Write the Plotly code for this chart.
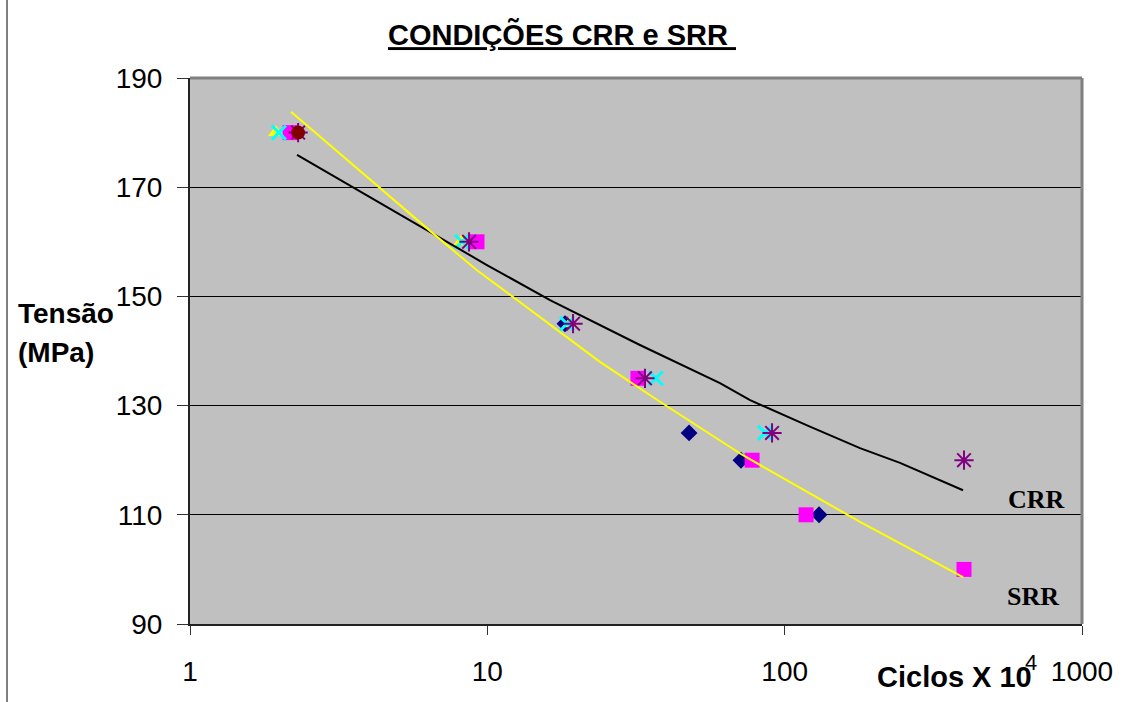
import plotly.graph_objects as go

# ---- data ----
diamond_x = [18.25, 47.7, 71.3, 130.5]
diamond_y = [145, 125, 120, 110]
square_x = [2.17, 9.23, 32.1, 77.7, 118, 401]
square_y = [180, 160, 135, 120, 110, 100]
triangle_x = [1.946, 8.16, 18.97]
triangle_y = [180, 160, 145]
cross_x = [1.99, 8.22, 18.53, 36.9, 85.9]
cross_y = [180, 160, 145, 135, 125]
aster_x = [2.31, 8.68, 19.42, 33.9, 90.7, 401]
aster_y = [180, 160, 145, 135, 125, 120]
circle_x = [2.31]
circle_y = [180]

crr_x = [2.291, 5.085, 9.97, 16.25, 32.6, 60.6, 76.5, 120.0, 179.2, 244.3, 398]
crr_y = [175.9, 164.9, 155.75, 149.3, 141.1, 134.1, 131.0, 126.3, 122.2, 119.5, 114.5]
srr_x = [2.186, 3.373, 6.415, 9.23, 15.04, 23.92, 38.08, 71.9, 179.2, 244.3, 398]
srr_y = [183.8, 175.0, 162.0, 154.8, 146.2, 138.0, 130.7, 121.0, 108.7, 104.8, 98.6]

x_ticks = [1, 10, 100, 1000]
y_ticks = [90, 110, 130, 150, 170, 190]

W, H = 1133, 702
L, R, T, B = 190, 51, 78, 78
PW, PH = W - L - R, H - T - B


def px(x):
    return (x - L) / PW


def py(y):
    return (H - B - y) / PH


fig = go.Figure()
fig.add_trace(go.Scatter(x=diamond_x, y=diamond_y, mode="markers",
                         marker=dict(symbol="diamond", size=13, color="#000080", line=dict(width=0))))
fig.add_trace(go.Scatter(x=square_x, y=square_y, mode="markers",
                         marker=dict(symbol="square", size=15, color="#FF00FF", line=dict(width=0))))
fig.add_trace(go.Scatter(x=triangle_x, y=triangle_y, mode="markers",
                         marker=dict(symbol="triangle-up", size=14, color="#FFFF00", line=dict(width=0))))
fig.add_trace(go.Scatter(x=cross_x, y=cross_y, mode="markers",
                         marker=dict(symbol="x-thin-open", size=14, color="#00FFFF", line=dict(width=3, color="#00FFFF"))))
fig.add_trace(go.Scatter(x=aster_x, y=aster_y, mode="markers",
                         marker=dict(symbol="asterisk-open", size=16, color="#800080", line=dict(width=2, color="#800080"))))
fig.add_trace(go.Scatter(x=circle_x, y=circle_y, mode="markers",
                         marker=dict(symbol="circle", size=14, color="#800000", line=dict(width=0))))
fig.add_trace(go.Scatter(x=crr_x, y=crr_y, mode="lines", line=dict(color="black", width=2)))
fig.add_trace(go.Scatter(x=srr_x, y=srr_y, mode="lines", line=dict(color="#FFFF00", width=2)))

fig.update_layout(
    width=W, height=H, autosize=False,
    margin=dict(l=L, r=R, t=T, b=B, pad=0),
    paper_bgcolor="white", plot_bgcolor="#C0C0C0",
    showlegend=False,
    font=dict(family="Arial, Liberation Sans, sans-serif", color="black"),
    title=dict(text="<b><u>CONDIÇÕES CRR e SRR\u00a0</u></b>",
               x=562 / W, xref="container", xanchor="center",
               y=1 - 35 / H, yref="container", yanchor="middle",
               font=dict(size=29, family="Arial, Liberation Sans, sans-serif")),
    xaxis=dict(type="log", range=[0, 3], tickvals=x_ticks, ticktext=[str(v) for v in x_ticks],
               showgrid=False, zeroline=False, showline=True, linecolor="#222222", linewidth=2,
               ticks="outside", ticklen=9, tickwidth=1, tickcolor="#333333",
               tickfont=dict(size=28), ticklabelstandoff=12),
    yaxis=dict(range=[90, 190], tickvals=y_ticks, showgrid=True, gridcolor="black", gridwidth=1,
               zeroline=False, showline=True, linecolor="#222222", linewidth=2,
               ticks="outside", ticklen=11, tickwidth=1, tickcolor="#333333",
               tickfont=dict(size=28), ticklabelstandoff=9),
    shapes=[
        dict(type="line", xref="paper", yref="paper", x0=0, x1=1, y0=1, y1=1,
             line=dict(color="#808080", width=3), layer="above"),
        dict(type="line", xref="paper", yref="paper", x0=1, x1=1, y0=0, y1=1,
             line=dict(color="#808080", width=3), layer="above"),
        dict(type="line", xref="paper", yref="paper", x0=px(7), x1=px(7), y0=py(0), y1=py(H),
             line=dict(color="black", width=1), layer="above"),
    ],
    annotations=[
        dict(text="<b>Tensão</b>", xref="paper", yref="paper", x=px(16), y=py(313),
             xanchor="left", yanchor="middle", showarrow=False, font=dict(size=28)),
        dict(text="<b>(MPa)</b>", xref="paper", yref="paper", x=px(16), y=py(352),
             xanchor="left", yanchor="middle", showarrow=False, font=dict(size=28)),
        dict(text="<b>Ciclos X 10</b>", xref="paper", yref="paper", x=px(875), y=py(677),
             xanchor="left", yanchor="middle", showarrow=False, font=dict(size=29)),
        dict(text="4", xref="paper", yref="paper", x=px(1031), y=py(662),
             xanchor="center", yanchor="middle", showarrow=False, font=dict(size=22)),
        dict(text="<b>CRR</b>", xref="paper", yref="paper", x=px(1036), y=py(499),
             xanchor="center", yanchor="middle", showarrow=False,
             font=dict(size=26, family="Liberation Serif, Times New Roman, serif")),
        dict(text="<b>SRR</b>", xref="paper", yref="paper", x=px(1033), y=py(596),
             xanchor="center", yanchor="middle", showarrow=False,
             font=dict(size=26, family="Liberation Serif, Times New Roman, serif")),
    ],
)

fig.write_html("out.html")
